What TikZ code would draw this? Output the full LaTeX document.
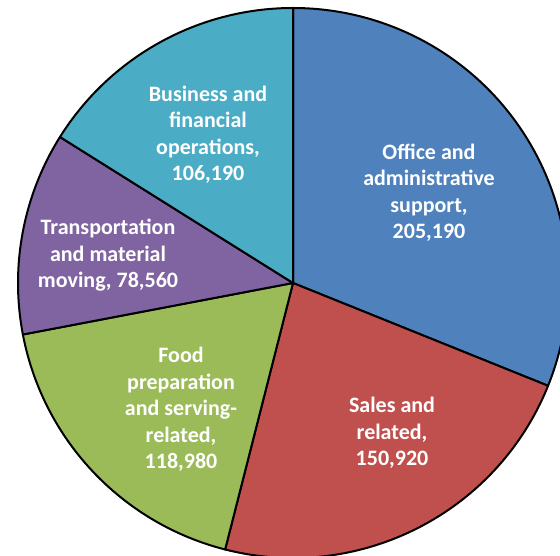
\documentclass[tikz,border=0pt]{standalone}
\usepackage{fontspec}
\setmainfont{Carlito}
\definecolor{cOffice}{HTML}{4F81BD}
\definecolor{cSales}{HTML}{C0504D}
\definecolor{cFood}{HTML}{9BBB59}
\definecolor{cTrans}{HTML}{8064A2}
\definecolor{cBus}{HTML}{4BACC6}
\tikzset{
  slice/.style={draw=black, line width=2pt, line join=round},
  lab/.style={text=white, font=\fontsize{22}{26.5}\selectfont\bfseries, align=center, inner sep=0pt}
}
\begin{document}
\begin{tikzpicture}[x=1pt,y=1pt]
\useasboundingbox (0,0) rectangle (560,556);
\clip (0,0) rectangle (560,556);
\coordinate (c) at (293,273);
\def\R{275}
\draw[slice, fill=cOffice] (c) -- ++(90:\R) arc[start angle=90, end angle=-21.95, radius=\R] -- cycle;
\draw[slice, fill=cSales] (c) -- ++(-21.95:\R) arc[start angle=-21.95, end angle=-104.29, radius=\R] -- cycle;
\draw[slice, fill=cFood] (c) -- ++(-104.29:\R) arc[start angle=-104.29, end angle=-169.20, radius=\R] -- cycle;
\draw[slice, fill=cTrans] (c) -- ++(-169.20:\R) arc[start angle=-169.20, end angle=-212.07, radius=\R] -- cycle;
\draw[slice, fill=cBus] (c) -- ++(-212.07:\R) arc[start angle=-212.07, end angle=-270, radius=\R] -- cycle;
\node[lab] (office) at (429,363) {Office and\\administrative\\support,\\205,190};
\node[lab] (sales) at (392,123) {Sales and\\related,\\150,920};
\node[lab] (food) at (181,146.5) {Food\\preparation\\and serving-\\related,\\118,980};
\node[lab] (trans) at (108,300.5) {Transportation\\and material\\moving, 78,560};
\node[lab] (bus) at (208,421) {Business and\\financial\\operations,\\106,190};
\end{tikzpicture}
\end{document}
